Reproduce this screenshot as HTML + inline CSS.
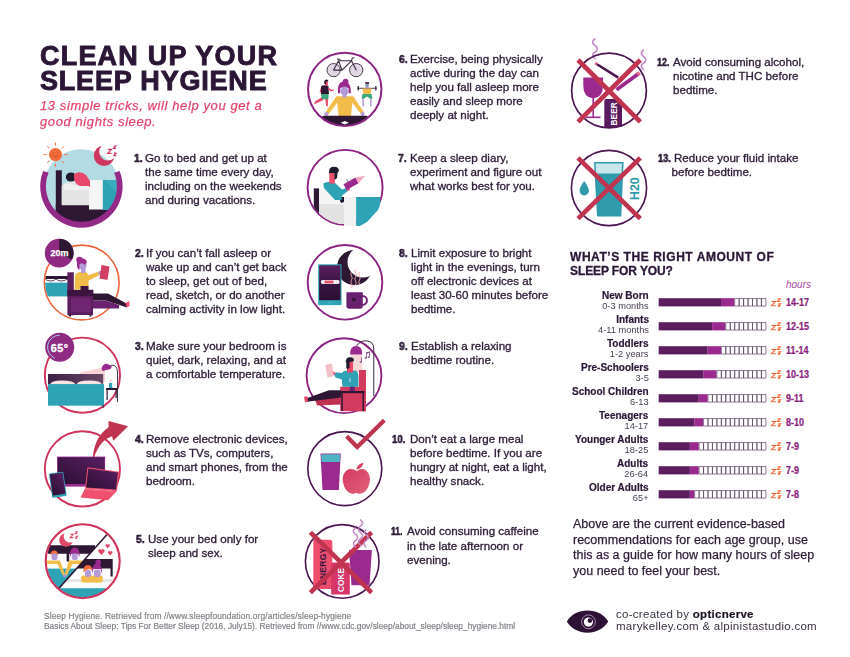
<!DOCTYPE html>
<html><head><meta charset="utf-8">
<style>
*{margin:0;padding:0;box-sizing:border-box}
html,body{width:850px;height:657px;background:#fff;overflow:hidden}
body{position:relative;font-family:"Liberation Sans",sans-serif;color:#2e1c38}
.t,.n,.para,.refs,.cred,.title,.sub,.h2,.lab{will-change:transform}
svg.bg{position:absolute;left:0;top:0}
.t{position:absolute;white-space:nowrap;font-size:11.6px;line-height:14px;color:#2e1c38;-webkit-text-stroke:0.32px #2e1c38}
.n{position:absolute;white-space:nowrap;font-size:11.6px;line-height:14px;font-weight:bold;color:#2e1c38;-webkit-text-stroke:0.6px #2e1c38;transform:scaleX(.9);transform-origin:0 0}
.title{position:absolute;left:39.5px;top:43.5px;font-size:27px;line-height:24.6px;font-weight:bold;color:#2b1636;white-space:nowrap;-webkit-text-stroke:0.9px #2b1636}
.sub{position:absolute;left:40px;top:98px;font-size:13px;line-height:16px;font-style:italic;letter-spacing:0.6px;color:#e3456c;white-space:nowrap;-webkit-text-stroke:0.25px #e3456c}
.h2{position:absolute;left:570px;top:249.5px;font-size:12px;line-height:14px;font-weight:bold;color:#2b1636;white-space:nowrap;-webkit-text-stroke:0.3px #2b1636}
.lab{position:absolute;right:201.5px;white-space:nowrap;text-align:right}
.lab b{display:block;font-weight:bold;color:#2b1636;font-size:10px;line-height:10px;-webkit-text-stroke:0.2px #2b1636}
.lab span{display:block;color:#4a3f52;font-size:9.3px;line-height:9.5px;padding-top:1.2px}
.hrs{position:absolute;white-space:nowrap;font-size:10px;font-weight:bold;color:#8c1f7e}
.para{position:absolute;left:573px;top:516.7px;font-size:12.5px;line-height:15.5px;white-space:nowrap;color:#2e1c38;-webkit-text-stroke:0.25px #2e1c38}
.refs{position:absolute;left:44px;top:611.8px;font-size:8.4px;line-height:9.9px;color:#858089;white-space:nowrap;-webkit-text-stroke:0.2px #858089}
.cred{position:absolute;left:615.5px;top:607.9px;font-size:11.5px;line-height:12.1px;letter-spacing:0.28px;color:#3a3042;white-space:nowrap}
.cred b{color:#1e1226;-webkit-text-stroke:0.2px #1e1226}
</style></head>
<body>
<svg class="bg" width="850" height="657" viewBox="0 0 850 657">
<!-- ICON 1 -->
<g id="i1">
  <defs><clipPath id="c1"><circle cx="81.4" cy="187" r="37.5"/></clipPath></defs>
  <circle cx="81.4" cy="187" r="37.8" fill="#b3dbe3"/>
  <g clip-path="url(#c1)">
    <rect x="55.8" y="170.3" width="6" height="60" fill="#2d1733"/>
    <rect x="55.8" y="204.5" width="56" height="30" fill="#2d1733"/>
    <path d="M61.7 205.2 L61.7 186 Q66 181 75 182 L89 182 L89 205.2 Z" fill="#e4e4e4"/>
    <rect x="89" y="180" width="14" height="29.5" fill="#f5f5f5"/>
    <rect x="102.8" y="180" width="14" height="30" fill="#2fa3b6"/>
    <path d="M105 180 L116 180 L116 192 Z" fill="#45b2c2" opacity="0.6"/>
    <ellipse cx="71" cy="177" rx="5.2" ry="4.6" fill="#1f1a2e"/>
    <path d="M74 174 Q80 170 86 175 L90 181 L90 187 L80 186 Q74 183 74 178 Z" fill="#e8486a"/>
    <path d="M80 186 Q73 186 70 184 Q66 183 64 185 L64 190 L89 190 L89 186 Z" fill="#f0f0f0"/>
  </g>
  <path d="M43.2 171 A41.2 41.2 0 1 0 119.6 171 L114.2 172.7 A35.5 35.5 0 1 1 48.6 172.7 Z" fill="#942a88"/>
  <g fill="#f26c3c" stroke="#f26c3c" stroke-width="1" stroke-linecap="round">
    <circle cx="55.5" cy="154.6" r="6.6" stroke="none"/>
    <line x1="55.5" y1="143" x2="55.5" y2="145.2"/>
    <line x1="55.5" y1="164" x2="55.5" y2="166.4"/>
    <line x1="44" y1="154.6" x2="46.3" y2="154.6"/>
    <line x1="64.7" y1="154.6" x2="67.2" y2="154.6"/>
    <line x1="47.5" y1="146.6" x2="49" y2="148.1"/>
    <line x1="62" y1="161.1" x2="63.5" y2="162.6"/>
    <line x1="47.5" y1="162.6" x2="49" y2="161.1"/>
    <line x1="62" y1="148.1" x2="63.5" y2="146.6"/>
  </g>
  <path d="M52.5 155.5 Q55.5 158.5 58.5 155.5" fill="none" stroke="#b8401f" stroke-width="0.7"/>
  <circle cx="53.3" cy="153" r="0.6" fill="#b8401f"/><circle cx="57.7" cy="153" r="0.6" fill="#b8401f"/>
  <mask id="m1"><rect x="85" y="135" width="40" height="35" fill="#fff"/><circle cx="107.8" cy="151.8" r="8.6" fill="#000"/></mask>
  <circle cx="104" cy="155.8" r="10.2" fill="#cf3760" mask="url(#m1)"/>
  <path d="M107.8 149.4h3.6l-3.6 3.9h3.8 M113.6 146h2.2l-2.2 2.5h2.4 M113.8 153.2h2.2l-2.2 2.5h2.4" fill="none" stroke="#cf3760" stroke-width="1.2"/>
</g>
<!-- ICON 2 -->
<g id="i2">
  <circle cx="81.7" cy="282.5" r="37.4" fill="none" stroke="#f0643a" stroke-width="1.6"/>
  <defs><clipPath id="c2"><circle cx="81.7" cy="282.5" r="36.6"/></clipPath></defs>
  <g clip-path="url(#c2)">
    <rect x="40" y="276" width="28" height="3" fill="#2d1733"/>
    <path d="M40 279 L68 279 L68 283 L40 283 Z" fill="#fff"/>
    <path d="M44 279 Q52 283 56 279 Q60 283 68 279" fill="none" stroke="#2d1733" stroke-width="0.8"/>
    <rect x="40" y="282.6" width="28" height="13.8" fill="#2fa3b6"/>
  </g>
  <!-- footrest -->
  <path d="M93 293.5 L108 293.5 L127.5 304 L127 307.5 L106 300.5 L93 300.5 Z" fill="#2d1733"/>
  <path d="M93 300.5 L106 300.5 L119 305 L119 308.5 L93 308.5 Z" fill="#6a2370"/>
  <path d="M125.5 303 L129.5 301 L129.5 306 L126.5 307.5 Z" fill="#f0506e"/>
  <!-- chair -->
  <rect x="67.4" y="272.3" width="6.4" height="43" fill="#5c1d5e"/>
  <rect x="67.4" y="289.8" width="26" height="6.5" fill="#3d1440"/>
  <rect x="68" y="296" width="25" height="19" fill="#5c1d5e"/>
  <rect x="71" y="297.5" width="20" height="15" fill="#6e2672"/>
  <rect x="69" y="314.5" width="2" height="2" fill="#2d1733"/><rect x="89.5" y="314.5" width="2" height="2" fill="#2d1733"/>
  <!-- person -->
  <path d="M74.5 289.5 L75 276 Q76 272 81 272 L86 272 Q89 274 88.6 280 L88.6 289.5 Z" fill="#f2bc4a"/>
  <path d="M86 276 L99 271.5 L100.5 274.5 L88 281 Z" fill="#f2bc4a"/>
  <circle cx="100.5" cy="273" r="2.2" fill="#b49ad6"/>
  <rect x="81" y="267" width="4.5" height="6" fill="#b49ad6"/>
  <circle cx="82.5" cy="265.5" r="4" fill="#b49ad6"/>
  <path d="M77 265 Q76 259 81 258.5 Q86 258 87 262 L85 265 Q82 262 79.5 264 L79.5 270 Q77 269 77 265 Z" fill="#9a2a8e"/>
  <circle cx="79.5" cy="260" r="3.2" fill="#9a2a8e"/>
  <rect x="80.5" y="286" width="8" height="4" fill="#3d1440"/>
  <path d="M101.5 265 L109.5 266.5 L107.5 280 L99.5 278.5 Z" fill="#d43d63"/>
  <!-- clock -->
  <circle cx="59.2" cy="253.1" r="14.4" fill="#8e2a82"/>
  <path d="M59.2 253.1 L59.2 238.7 A14.4 14.4 0 0 1 72 259.6 Z" fill="#2d1733"/>
  <text x="59.6" y="255.6" stroke="#fff" stroke-width="0.25" font-size="9" font-weight="bold" fill="#fff" text-anchor="middle" font-family="Liberation Sans">20m</text>
</g>
<!-- ICON 3 -->
<g id="i3">
  <circle cx="82.4" cy="375.2" r="37.6" fill="none" stroke="#d0325a" stroke-width="1.9"/>
  <path d="M80 372.5 L105 367 L105 382 L80 376 Z" fill="#f7d3d3"/>
  <defs><linearGradient id="hb3" x1="0" x2="1"><stop offset="0" stop-color="#3d2046"/><stop offset="1" stop-color="#6a4866"/></linearGradient></defs>
  <rect x="48" y="374" width="55.2" height="10.5" fill="url(#hb3)"/>
  <path d="M50 384.5 Q51 380.5 62 380.5 Q74 380.5 75.5 384.5 Z" fill="#f6e4e2"/>
  <path d="M76.5 384.5 Q77.5 380.5 89 380.5 Q101 380.5 102 384.5 Z" fill="#f6e4e2"/>
  <rect x="48" y="384.1" width="56" height="21.6" fill="#2ea3b6"/>
  <rect x="102.5" y="405" width="1" height="3" fill="#2d1733"/>
  <path d="M108 367.5 Q111 364 114.5 365.5 Q117.5 367.5 117.5 372 L117.5 402" fill="none" stroke="#3a2540" stroke-width="0.9"/>
  <path d="M102.5 371 A4.6 4.6 0 0 1 110.5 366 Z" fill="#9a2a8e"/>
  <path d="M102.5 371 Q105 362 112 366.5 L110.5 369 Z" fill="#9a2a8e"/>
  <rect x="106" y="388" width="11.5" height="2" fill="#2d1733"/>
  <rect x="106.5" y="390" width="1.2" height="10" fill="#2d1733"/>
  <rect x="115.5" y="390" width="1.2" height="8" fill="#2d1733"/>
  <rect x="109" y="383" width="3.2" height="5" fill="#2ea3b6"/>
  <path d="M110.6 378.5 Q112 381 110.6 382.5 Q109.2 381 110.6 378.5 Z" fill="#f3b4b4"/>
  <circle cx="59.7" cy="347.2" r="14.5" fill="#8e2a82"/>
  <path d="M59.7 335.2 A12 12 0 0 0 55 358.3" fill="none" stroke="#a9d9e6" stroke-width="0.9"/>
  <text x="59.6" y="352.2" font-size="10.8" font-weight="bold" fill="#fff" stroke="#fff" stroke-width="0.35" letter-spacing="0.4" text-anchor="middle" font-family="Liberation Sans">65°</text>
</g>
<!-- ICON 4 -->
<g id="i4">
  <circle cx="82.4" cy="468.9" r="37.6" fill="none" stroke="#d0325a" stroke-width="1.9"/>
  <defs>
   <linearGradient id="tv4" x1="0" y1="1" x2="1" y2="0"><stop offset="0" stop-color="#2a0f33"/><stop offset="1" stop-color="#5a1f62"/></linearGradient>
  </defs>
  <rect x="57.1" y="456.6" width="48" height="30" fill="#9a2a8e"/>
  <rect x="57.8" y="457.3" width="46.6" height="26.7" fill="url(#tv4)"/>
  <path d="M92.8 457 Q94.5 437 108.6 427.2 L108.5 421 L128.1 426.3 L113.3 440.7 L112 436.2 Q100 440 94.2 457 Z" fill="#c0344f"/>
  <g transform="rotate(-8 58 484.5)">
    <rect x="50.5" y="472.5" width="14.5" height="24.5" rx="1" fill="#2ea3b6"/>
    <rect x="51.3" y="473.3" width="12.9" height="21.4" fill="url(#tv4)"/>
  </g>
  <path d="M87.4 467.3 L119.2 471.7 L116.9 490.9 L85.1 488.5 Z" fill="#f0506e"/>
  <path d="M88.3 468.5 L118 472.6 L116 489.6 L86.2 487.4 Z" fill="url(#tv4)"/>
  <path d="M85.1 488.5 L116.9 490.9 L108 500.3 L80.5 497.4 Z" fill="#f0506e"/>
  <path d="M84 489.5 L114.5 491.8" stroke="#f47a8e" stroke-width="0.6"/>
</g>
<!-- ICON 5 -->
<g id="i5">
  <defs><clipPath id="c5"><circle cx="82.7" cy="561.2" r="36.2"/></clipPath>
  <clipPath id="c5a"><path d="M40 520 L110 520 L110 531 L59 588.5 L40 600 Z"/></clipPath>
  <clipPath id="c5b"><path d="M110 531 L130 520 L130 610 L50 610 L59 588.5 Z"/></clipPath></defs>
  <g clip-path="url(#c5)">
    <!-- left scene -->
    <g clip-path="url(#c5a)">
      <path d="M48 545.2 L95 545.2 L95 553.7 L69.2 553.7 L69.2 561.6 L66.6 561.6 L66.6 553.7 L48 553.7 Z" fill="#2d1733"/>
      <rect x="45" y="553.7" width="50" height="15" fill="#fff" opacity="0"/>
      <rect x="45" y="568.6" width="50" height="22" fill="#2ea3b6"/>
      <rect x="51.5" y="553" width="6" height="7" rx="2" fill="#b49ad6"/>
      <path d="M50.6 556 Q50 550.5 54.3 550.5 Q58.3 550.5 57.8 556 L56.5 553.5 L52 553.5 Z" fill="#f26c3c"/>
      <rect x="71.8" y="553" width="6" height="7" rx="2" fill="#b49ad6"/>
      <path d="M70 557 Q69 548 74.8 547.5 Q80.5 548 79.5 557 L78 553.5 L71.5 553.5 Z" fill="#9a2a8e"/>
      <path d="M47 560.5 L60 560.5 L65 574.5 L63 576 L57.5 564 L47 564 Z" fill="#f2bc4a"/>
      <path d="M69 560.5 L82 560.5 L82 564 L72.5 564 L66.5 576 L64.5 574.5 Z" fill="#f2bc4a"/>
      <circle cx="64.8" cy="575.8" r="1.7" fill="#b49ad6"/>
    </g>
    <!-- right scene -->
    <g clip-path="url(#c5b)">
      <rect x="60" y="579" width="60" height="3.5" fill="#e6e6e6"/>
      <rect x="55" y="582.2" width="70" height="6.2" fill="#fff"/>
      <rect x="55" y="588.2" width="70" height="15" fill="#2ea3b6"/>
      <path d="M75 559 L112.7 559 L112.7 576.6 L110.5 576.6 L110.5 568.6 L75 568.6 Z" fill="#2d1733"/>
      <rect x="81.1" y="575.4" width="21.7" height="7.2" rx="2" fill="#f2bc4a"/>
      <rect x="85" y="570" width="6" height="7" rx="2" fill="#b49ad6"/>
      <path d="M83.5 573 Q83 565 87.8 565 Q92.5 565 92 571 L90 569 L85.5 570 Z" fill="#f26c3c"/>
      <rect x="94" y="569.5" width="6.5" height="7.5" rx="2" fill="#b49ad6"/>
      <path d="M92 574 Q91.5 563.5 97.1 563.5 Q102.5 563.5 102 574 L100.5 569 L93.5 569 Z" fill="#9a2a8e"/>
      <circle cx="98.2" cy="562.3" r="2.8" fill="#9a2a8e"/>
    </g>
  </g>
  <path d="M59 588.2 L107 534.5" stroke="#2d1733" stroke-width="1.6"/>
  <circle cx="82.7" cy="561.2" r="37" fill="none" stroke="#d0325a" stroke-width="2.1"/>
  <mask id="m5"><rect x="50" y="525" width="30" height="25" fill="#fff"/><circle cx="70" cy="536.3" r="6.3" fill="#000"/></mask><circle cx="66" cy="540" r="6.8" fill="#e0486a" mask="url(#m5)"/>
  <path d="M70.2 534.3h3l-3 3.3h3.2 M75.3 531.8h1.8l-1.8 2h2 M75.6 536.3h1.6l-1.6 1.8h1.8" fill="none" stroke="#e0486a" stroke-width="1.1"/>
  <g fill="#e0486a">
    <path d="M101.4 555 L98.4 551.8 A1.6 1.6 0 0 1 101.4 550 A1.6 1.6 0 0 1 104.4 551.8 Z"/>
    <path d="M107.7 548.3 L105.6 546 A1.2 1.2 0 0 1 107.7 544.8 A1.2 1.2 0 0 1 109.8 546 Z"/>
    <path d="M110.2 555.5 L108 553.1 A1.25 1.25 0 0 1 110.2 551.8 A1.25 1.25 0 0 1 112.4 553.1 Z"/>
  </g>
</g>
<!-- ICON 6 -->
<g id="i6">
  <defs><clipPath id="c6"><circle cx="344.75" cy="89.35" r="36.2"/></clipPath></defs>
  <!-- bicycle -->
  <g stroke="#3a2540" stroke-width="0.9" fill="#e4dde6">
    <circle cx="333.6" cy="70.1" r="6.6"/>
    <circle cx="356.2" cy="70.1" r="6.6"/>
  </g>
  <g stroke="#b9aec0" stroke-width="0.35" fill="none">
    <path d="M327.5 70.1 H339.7 M333.6 64 V76.2 M329.3 65.8 L337.9 74.4 M329.3 74.4 L337.9 65.8"/>
    <path d="M350.1 70.1 H362.3 M356.2 64 V76.2 M351.9 65.8 L360.5 74.4 M351.9 74.4 L360.5 65.8"/>
  </g>
  <g stroke="#3a2540" stroke-width="1.1" fill="none" stroke-linejoin="round">
    <path d="M333.6 70.1 L338.5 60.8 L351.5 60.8 L356.2 70.1 M338.5 60.8 L342 70.1 L351.5 60.8 M333.6 70.1 L342 70.1"/>
    <path d="M337 59.3 L340.5 59.3 M351.5 60.8 L352.3 58 L354.5 57.8"/>
  </g>
  <!-- runner -->
  <g>
    <path d="M322 97 L315 101.5 L314 104.2 L316 103.5 L323.5 100 Z" fill="#e8486a"/>
    <path d="M325 97 L326.2 106 L327.8 106.5 L328 97 Z" fill="#e8486a"/>
    <path d="M321 93.5 L328.5 93.5 L328.5 99.5 L325.5 99 L322 99.5 Z" fill="#3aa87a"/>
    <path d="M321 86.5 Q322 85 326 85 L328.5 86 L329 94 L321 94 Z" fill="#2d1733"/>
    <path d="M321 87.5 L319.5 92 L321 92.5 Z" fill="#e8486a"/>
    <path d="M328 87.5 L332 90 L334 89.3 L334 90.3 L331.5 91.5 L328.5 90 Z" fill="#e8486a"/>
    <rect x="324.8" y="81.2" width="3" height="4.5" fill="#e8486a"/>
    <path d="M324.2 81.8 Q324.5 79.3 327 79.5 Q328.6 79.8 328.3 81.5 L326.3 81.6 L326 84 L324.5 84 Z" fill="#2d1733"/>
  </g>
  <!-- lifter -->
  <g>
    <rect x="357.3" y="87.8" width="19.5" height="0.9" fill="#3a2540"/>
    <rect x="357.6" y="86" width="1.3" height="4.5" fill="#3a2540"/>
    <rect x="375.2" y="86" width="1.3" height="4.5" fill="#3a2540"/>
    <path d="M362.5 88.5 L371.5 88.5 L370.5 94.2 L363.5 94.2 Z" fill="#f2bc4a"/>
    <path d="M362.5 94 L371.5 94 L372.5 98.5 L370.5 99 L367 96.5 L363.5 99 L361.5 98.5 Z" fill="#3aa87a"/>
    <path d="M362.3 98.5 L363.8 99 L364 106.6 L362.5 106.6 Z M370.2 99 L371.7 98.5 L371.5 106.6 L370 106.6 Z" fill="#b49ad6"/>
    <rect x="365.5" y="83" width="3.2" height="5" fill="#b49ad6"/>
    <rect x="365.2" y="82.2" width="3.8" height="1.6" fill="#2d1733"/>
    <rect x="365.5" y="85" width="3.2" height="1" fill="#3aa87a"/>
  </g>
  <!-- meditating woman -->
  <g clip-path="url(#c6)">
    <path d="M336.4 96.3 L353.1 96.3 L351 115.9 L338.6 115.9 Z" fill="#f2bc4a"/>
    <path d="M336.4 96.3 L339.6 99.5 L328.3 114.6 L325.3 112.6 Z" fill="#f2bc4a"/>
    <path d="M353.1 96.3 L349.9 99.5 L361.2 114.6 L364.2 112.6 Z" fill="#f2bc4a"/>
    <circle cx="326.3" cy="114" r="2" fill="#b49ad6"/>
    <circle cx="362.6" cy="114" r="2" fill="#b49ad6"/>
    <path d="M324 115.8 L366 115.8 Q369.5 116.5 369.5 121 L369.5 130 L320 130 L320 121 Q320.5 116.5 324 115.8 Z" fill="#2d1733"/>
    <path d="M340.5 122.8 L344.8 121 L349 122.8 L344.8 124.6 Z" fill="#fff"/>
    <rect x="342.6" y="94" width="3.8" height="3.5" fill="#b49ad6"/>
    <path d="M338 93.2 Q337 81.5 344.3 81.5 Q351.5 81.5 350.8 93.2 L348.5 93.2 L348.5 88 Q344.3 86.5 340.3 88 L340.3 93.2 Z" fill="#9a2a8e"/>
    <ellipse cx="344.4" cy="91.2" rx="3.8" ry="4.6" fill="#b49ad6"/>
    <circle cx="345.6" cy="81.6" r="2.9" fill="#9a2a8e"/>
  </g>
  <circle cx="344.75" cy="89.35" r="36.7" fill="none" stroke="#8b2383" stroke-width="2"/>
</g>
<g id="i7">
  <defs><clipPath id="c7"><circle cx="345.1" cy="187.4" r="36.8"/></clipPath></defs>
  <circle cx="345.1" cy="187.4" r="37.5" fill="none" stroke="#8b2383" stroke-width="1.9"/>
  <g clip-path="url(#c7)">
    <rect x="313.8" y="188.4" width="5.2" height="30" fill="#2d1733"/>
    <path d="M319 190 L330 186 L340 199 L345 204.5 L319 204.5 Z" fill="#f4f4f4"/>
    <rect x="319" y="204.2" width="27" height="20" fill="#e2e2e2"/>
  </g>
  <path d="M344 197 L356.1 197 L356.1 226 L344 226 Z" fill="#f1f1f1"/>
  <path d="M356.1 197 L380 197 Q381 205 378 210 L367 222 L360 226 L356.1 226 Z" fill="#2ea3b6"/>
  <path d="M338.5 197 L344 197 L344 202 L341 203 Z" fill="#1f1a2e"/>
  <path d="M323.3 183.5 Q325 181.5 330 182 L335 183 L342 189.5 L346.5 188 L348 191 L342 195.5 L341.5 200 L335 200 L324 188 Z" fill="#2ea3b6"/>
  <circle cx="348.2" cy="189.2" r="1.6" fill="#e8486a"/>
  <rect x="329.3" y="171.4" width="5.5" height="12.2" fill="#f0506e"/>
  <path d="M334.5 173 L337.5 173 L337 178 L334.5 180 Z" fill="#1f1a2e"/>
  <path d="M329 171.5 Q329 166.8 334 166.8 Q339.5 167 338.8 171 L337.5 173 L329 173 Z" fill="#1f1a2e"/>
  <path d="M343.5 184.3 L355.5 177.6 L358.5 183.2 L346.5 190 Z" fill="#9a2a8e"/>
  <path d="M355.5 177.6 L365.3 175.8 L358.5 183.2 Z" fill="#f2a8c0"/>
  <path d="M346.5 179 L348 182" stroke="#2d1733" stroke-width="0.6"/>
</g>
<g id="i8">
  <circle cx="345" cy="282.3" r="37.3" fill="none" stroke="#8b2383" stroke-width="1.9"/>
  <defs>
   <mask id="m8"><rect x="320" y="240" width="70" height="60" fill="#fff"/><circle cx="363" cy="262" r="15.5" fill="#000"/></mask>
   <linearGradient id="ph8" x1="0" y1="0" x2="0" y2="1"><stop offset="0" stop-color="#5a1f5e"/><stop offset="0.5" stop-color="#3a1542"/><stop offset="1" stop-color="#2a0f33"/></linearGradient>
  </defs>
  <circle cx="354.5" cy="267.5" r="17.6" fill="#2d1733" mask="url(#m8)"/>
  <g fill="none" stroke="#f2a8b0" stroke-width="0.9">
    <path d="M351.5 272 q-1.5 2 0 4 q1.5 2 0 4 q-1.5 2 0 4 q1.5 2 0 4"/>
    <path d="M355.5 269 q-1.5 2 0 4 q1.5 2 0 4 q-1.5 2 0 4 q1.5 2 0 4"/>
    <path d="M359.5 272 q-1.5 2 0 4 q1.5 2 0 4 q-1.5 2 0 4"/>
  </g>
  <rect x="318.2" y="264.3" width="23.3" height="40.8" fill="#2ea3b6"/>
  <rect x="319.2" y="265.3" width="21.3" height="34.9" fill="url(#ph8)"/>
  <rect x="320.8" y="280.1" width="18.9" height="3.8" rx="1.9" fill="#eee"/>
  <rect x="324.5" y="280.6" width="9" height="2.8" fill="#e8506a"/>
  <rect x="328.5" y="301.8" width="3" height="1.6" fill="#45b8c8"/>
  <path d="M360 296 h2.5 a4.4 4.4 0 0 1 0 8.8 h-2.5" fill="none" stroke="#6a2070" stroke-width="2"/>
  <path d="M346.4 292.3 L362.8 292.3 L362.8 306 Q362.8 308.8 360 308.8 L349.2 308.8 Q346.4 308.8 346.4 306 Z" fill="#6a2070"/>
  <rect x="352.2" y="298.1" width="3.2" height="3.2" fill="#2d1733"/>
</g>
<g id="i9">
  <circle cx="344" cy="375.7" r="37.4" fill="none" stroke="#8b2383" stroke-width="1.9"/>
  <path d="M356.5 346 Q360 340.5 366.5 340.8 Q373.8 341.5 373.8 349 L373.8 396" fill="none" stroke="#3a2540" stroke-width="1"/>
  <path d="M351 354.4 L361.8 354.4 L362.5 372 L351.5 372 Z" fill="#f6d6d6"/>
  <path d="M350.1 354.4 Q350 346 356.1 346 Q362.3 346 362.2 354.4 Z" fill="#9a2a8e"/>
  <g fill="#7a4a80">
    <path d="M366 352.5 L369.8 351.2 L369.8 357.2 L369 357.2 L369 353 L366.8 353.8 L366.8 358 L366 358 Z"/>
    <ellipse cx="365.6" cy="358.1" rx="1.1" ry="0.8"/><ellipse cx="368.6" cy="357.3" rx="1.1" ry="0.8"/>
    <path d="M361 357.5 L361.8 357.5 L361.8 362 L361 362 Z"/><ellipse cx="360.6" cy="362.1" rx="1" ry="0.8"/>
  </g>
  <!-- chair -->
  <rect x="358.9" y="370" width="7.1" height="41.3" fill="#d23a5e"/>
  <rect x="340.2" y="386.7" width="25.8" height="24.5" fill="#d23a5e"/>
  <!-- legs -->
  <path d="M315 398.5 L340.5 397 L341 404.5 L317 405.5 Z" fill="#c03050"/>
  <path d="M329 390.2 L341 390.2 L341 397.5 L307 401.8 L306 398.5 Z" fill="#2d1733"/>
  <path d="M304 397 L307.5 396 L308 401.5 L305 402.5 Z" fill="#e8486a"/>
  <!-- table -->
  <rect x="340.5" y="391" width="24" height="2.2" fill="#2d1733"/>
  <rect x="341.3" y="393" width="1.5" height="18" fill="#2d1733"/>
  <rect x="362.5" y="393" width="1.5" height="18" fill="#2d1733"/>
  <rect x="349.8" y="384.3" width="4.8" height="6.8" fill="#6a2070"/>
  <!-- man -->
  <path d="M341.8 373 Q343 370.4 347.5 370.4 L356 370.4 Q358.6 372 358.4 378 L358.4 386.8 L342.5 386.8 L341.8 379.5 L335.5 377.5 L334 374.5 L336 372.3 Z" fill="#2ea3b6"/>
  <path d="M350 377 Q351.5 380 350.5 382 L349 382 Q348.5 380 350 377 Z" fill="#8fcad4"/>
  <circle cx="333.5" cy="373.2" r="1.8" fill="#e8486a"/>
  <path d="M325.3 365 L331.8 363.3 L334 376 L327.4 377.8 Z" fill="#f2c0c8"/>
  <rect x="347" y="361.5" width="6" height="11" fill="#e8486a"/>
  <path d="M346.3 362 L349.5 362 L349.5 367.5 L347.5 369.5 L346.3 368 Z" fill="#1f1a2e"/>
  <path d="M345.8 362.5 Q345.5 357.3 350 357.3 Q354.5 357.3 353.8 361.3 L348 362.5 Z" fill="#1f1a2e"/>
</g>
<g id="i10">
  <circle cx="344.8" cy="468.6" r="37" fill="none" stroke="#4a1550" stroke-width="1.6"/>
  <defs>
   <linearGradient id="ap10" x1="0" y1="0" x2="1" y2="1"><stop offset="0" stop-color="#d63a60"/><stop offset="1" stop-color="#e2607a"/></linearGradient>
  </defs>
  <path d="M320.5 453.4 L340.8 453.4 L338.8 490 L322.5 490 Z" fill="#9a2a8e"/>
  <path d="M321.2 454.2 L340.1 454.2 L339.7 462 L321.6 462 Z" fill="#4fb3c4"/>
  <path d="M356.8 471 Q351 467.5 346.5 470.5 Q341.5 475 343 482.5 Q345 491.5 351 493.5 Q354 494.5 356.3 492.8 Q358.6 494.5 361.6 493.5 Q367.6 491.5 369.6 482.5 Q371.1 475 366.1 470.5 Q361.6 467.5 356.8 471 Z" fill="url(#ap10)"/>
  <path d="M356.3 469.5 Q358 463.5 363.5 462.8 Q362.5 468.5 356.3 469.5 Z" fill="#d63a60"/>
  <path d="M346.6 436.3 L357.2 447 L384.3 420.3" fill="none" stroke="#c0344f" stroke-width="4.2"/>
</g>
<g id="i11">
  <circle cx="342.2" cy="561.4" r="36.8" fill="none" stroke="#4a1550" stroke-width="1.6"/>
  <g fill="none" stroke="#c487c6" stroke-width="1.6" stroke-linecap="round">
    <path d="M595 58.5 c-3.2 -2 -3.2 -4.5 0 -6.5 c3.2 -2 3.2 -4.5 0 -6.5 c-3.2 -2 -3.2 -4.5 0 -6.5"/>
    <path d="M643.5 69.5 c-3 -2 -3 -4.5 0 -6.5 c3 -2 3 -4.5 0 -6.5 c-3 -2 -3 -4.5 0 -6.5"/>
  </g>
  <path d="M313.3 539.7 L329.5 539.7 Q332.3 539.7 332.3 542.5 L332.3 589 L313.3 589 Z" fill="#ef4d6d"/>
  <text transform="translate(326.3 585) rotate(-90)" font-size="8.6" font-weight="bold" fill="#3a1540" font-family="Liberation Sans" letter-spacing="0.2">ENERGY</text>
  <path d="M331.2 564 Q331.2 562.5 333 562.5 L348 562.5 Q349.8 562.5 349.8 564 L349.8 594.5 L331.2 594.5 Z" fill="#d8356a"/>
  <text transform="translate(343.8 592) rotate(-90)" font-size="8.4" font-weight="bold" fill="#e6f4f6" font-family="Liberation Sans">COKE</text>
  <path d="M349 549.9 L371.9 549.9 L369.5 585.3 L351.5 585.3 Z" fill="#9a2a8e"/>
  <g stroke="#c0344f" stroke-width="4.6" stroke-linecap="butt">
    <path d="M310.4 532.4 L371.6 592.6"/>
    <path d="M310.4 592.6 L371.6 532.4"/>
  </g>
</g>
<g id="i12">
  <circle cx="609" cy="90.5" r="37.4" fill="none" stroke="#4a1550" stroke-width="1.7"/>
  <g fill="none" stroke="#c487c6" stroke-width="1.5" stroke-linecap="round">
    <path d="M355.5 547 c-2.8 -2 -2.8 -4.3 0 -6.3 c2.8 -2 2.8 -4.3 0 -6.3 c-2.8 -2 -2.8 -4.3 0 -6.3"/>
    <path d="M360.5 545 c-2.8 -2 -2.8 -4.3 0 -6.3 c2.8 -2 2.8 -4.3 0 -6.3 c-2.8 -2 -2.8 -4.3 0 -6.3 c2.8 -2 2.8 -4.3 0 -6.3"/>
    <path d="M366 547 c-2.8 -2 -2.8 -4.3 0 -6.3 c2.8 -2 2.8 -4.3 0 -6.3 c-2 -1.5 -2 -3 0 -4.5"/>
  </g>
  <path d="M595.4 63.2 L618.3 77.6" stroke="#4a1550" stroke-width="2.5"/>
  <path d="M595.4 63.2 L597.2 64.3" stroke="#f06a8a" stroke-width="2.5"/>
  <path d="M616.5 89.8 L639.5 73" stroke="#9a2a8e" stroke-width="3.8"/>
  <path d="M637.4 74.5 L639.5 73" stroke="#f06a8a" stroke-width="3.8"/>
  <path d="M583.3 77.6 L603 77.6 L603 86 Q603 97.5 593.2 98.5 Q583.3 97.5 583.3 86 Z" fill="#9a2a8e"/>
  <rect x="592.4" y="97" width="1.6" height="20" fill="#9a2a8e"/>
  <rect x="586" y="116.5" width="14.5" height="1.6" fill="#9a2a8e"/>
  <path d="M604.3 101 Q604.3 99 606.3 99 L620 99 Q622 99 622 101 L622 127 L604.3 127 Z" fill="#5a1a60"/>
  <text transform="translate(617 125.5) rotate(-90)" font-size="8.4" font-weight="bold" fill="#fff" font-family="Liberation Sans">BEER</text>
  <g stroke="#c0344f" stroke-width="4.6">
    <path d="M578 60 L640.3 121.8"/>
    <path d="M578 121.8 L640.3 60"/>
  </g>
</g>
<g id="i13">
  <circle cx="609" cy="188" r="37.6" fill="none" stroke="#4a1550" stroke-width="1.6"/>
  <path d="M594 162 L623.6 162 L621.3 216.4 L597 216.4 Z" fill="#2e9aab"/>
  <path d="M595.6 163.4 L622 163.4 L621.6 173.5 L596 173.5 Z" fill="#c8e6ec"/>
  <path d="M584.2 181 Q579.5 187.5 579.5 190.8 A4.7 4.7 0 0 0 588.9 190.8 Q588.9 187.5 584.2 181 Z" fill="#2e9aab"/>
  <text transform="translate(639.3 200) rotate(-90)" font-size="12.4" font-weight="bold" fill="#2e9aab" font-family="Liberation Sans">H20</text>
  <g stroke="#c0344f" stroke-width="4.6">
    <path d="M578 157.8 L640.3 218.7"/>
    <path d="M578 218.7 L640.3 157.8"/>
  </g>
</g>
<g id="chart">
<rect x="658.7" y="298.2" width="62.30" height="8.2" fill="#5c1d5e"/>
<rect x="721.00" y="298.2" width="13.35" height="8.2" fill="#9a2a8e"/>
<path d="M734.70 298.55h4.45v7.5h-4.45zM739.15 298.55h4.45v7.5h-4.45zM743.60 298.55h4.45v7.5h-4.45zM748.05 298.55h4.45v7.5h-4.45zM752.50 298.55h4.45v7.5h-4.45zM756.95 298.55h4.45v7.5h-4.45zM761.40 298.55h4.45v7.5h-4.45z" fill="#fff" stroke="#5a4262" stroke-width="0.7"/>
<path d="M771.4 301.5h4.2l-4.2 4.2h4.4 M777.6 298.9h2.6l-2.6 2.6h2.8 M778.2 303.7h2.2l-2.2 2.4h2.4" fill="none" stroke="#f26c3c" stroke-width="1.15" stroke-linejoin="miter"/>
<text transform="translate(786 305.8) scale(0.9 1)" font-size="10" font-weight="bold" fill="#8c1f7e" stroke="#8c1f7e" stroke-width="0.25" font-family="Liberation Sans">14-17</text>
<rect x="658.7" y="322.2" width="53.40" height="8.2" fill="#5c1d5e"/>
<rect x="712.10" y="322.2" width="13.35" height="8.2" fill="#9a2a8e"/>
<path d="M725.80 322.55h4.45v7.5h-4.45zM730.25 322.55h4.45v7.5h-4.45zM734.70 322.55h4.45v7.5h-4.45zM739.15 322.55h4.45v7.5h-4.45zM743.60 322.55h4.45v7.5h-4.45zM748.05 322.55h4.45v7.5h-4.45zM752.50 322.55h4.45v7.5h-4.45zM756.95 322.55h4.45v7.5h-4.45zM761.40 322.55h4.45v7.5h-4.45z" fill="#fff" stroke="#5a4262" stroke-width="0.7"/>
<path d="M771.4 325.5h4.2l-4.2 4.2h4.4 M777.6 322.9h2.6l-2.6 2.6h2.8 M778.2 327.7h2.2l-2.2 2.4h2.4" fill="none" stroke="#f26c3c" stroke-width="1.15" stroke-linejoin="miter"/>
<text transform="translate(786 329.8) scale(0.9 1)" font-size="10" font-weight="bold" fill="#8c1f7e" stroke="#8c1f7e" stroke-width="0.25" font-family="Liberation Sans">12-15</text>
<rect x="658.7" y="346.2" width="48.95" height="8.2" fill="#5c1d5e"/>
<rect x="707.65" y="346.2" width="13.35" height="8.2" fill="#9a2a8e"/>
<path d="M721.35 346.55h4.45v7.5h-4.45zM725.80 346.55h4.45v7.5h-4.45zM730.25 346.55h4.45v7.5h-4.45zM734.70 346.55h4.45v7.5h-4.45zM739.15 346.55h4.45v7.5h-4.45zM743.60 346.55h4.45v7.5h-4.45zM748.05 346.55h4.45v7.5h-4.45zM752.50 346.55h4.45v7.5h-4.45zM756.95 346.55h4.45v7.5h-4.45zM761.40 346.55h4.45v7.5h-4.45z" fill="#fff" stroke="#5a4262" stroke-width="0.7"/>
<path d="M771.4 349.5h4.2l-4.2 4.2h4.4 M777.6 346.9h2.6l-2.6 2.6h2.8 M778.2 351.7h2.2l-2.2 2.4h2.4" fill="none" stroke="#f26c3c" stroke-width="1.15" stroke-linejoin="miter"/>
<text transform="translate(786 353.8) scale(0.9 1)" font-size="10" font-weight="bold" fill="#8c1f7e" stroke="#8c1f7e" stroke-width="0.25" font-family="Liberation Sans">11-14</text>
<rect x="658.7" y="370.2" width="44.50" height="8.2" fill="#5c1d5e"/>
<rect x="703.20" y="370.2" width="13.35" height="8.2" fill="#9a2a8e"/>
<path d="M716.90 370.55h4.45v7.5h-4.45zM721.35 370.55h4.45v7.5h-4.45zM725.80 370.55h4.45v7.5h-4.45zM730.25 370.55h4.45v7.5h-4.45zM734.70 370.55h4.45v7.5h-4.45zM739.15 370.55h4.45v7.5h-4.45zM743.60 370.55h4.45v7.5h-4.45zM748.05 370.55h4.45v7.5h-4.45zM752.50 370.55h4.45v7.5h-4.45zM756.95 370.55h4.45v7.5h-4.45zM761.40 370.55h4.45v7.5h-4.45z" fill="#fff" stroke="#5a4262" stroke-width="0.7"/>
<path d="M771.4 373.5h4.2l-4.2 4.2h4.4 M777.6 370.9h2.6l-2.6 2.6h2.8 M778.2 375.7h2.2l-2.2 2.4h2.4" fill="none" stroke="#f26c3c" stroke-width="1.15" stroke-linejoin="miter"/>
<text transform="translate(786 377.8) scale(0.9 1)" font-size="10" font-weight="bold" fill="#8c1f7e" stroke="#8c1f7e" stroke-width="0.25" font-family="Liberation Sans">10-13</text>
<rect x="658.7" y="394.2" width="40.05" height="8.2" fill="#5c1d5e"/>
<rect x="698.75" y="394.2" width="8.90" height="8.2" fill="#9a2a8e"/>
<path d="M708.00 394.55h4.45v7.5h-4.45zM712.45 394.55h4.45v7.5h-4.45zM716.90 394.55h4.45v7.5h-4.45zM721.35 394.55h4.45v7.5h-4.45zM725.80 394.55h4.45v7.5h-4.45zM730.25 394.55h4.45v7.5h-4.45zM734.70 394.55h4.45v7.5h-4.45zM739.15 394.55h4.45v7.5h-4.45zM743.60 394.55h4.45v7.5h-4.45zM748.05 394.55h4.45v7.5h-4.45zM752.50 394.55h4.45v7.5h-4.45zM756.95 394.55h4.45v7.5h-4.45zM761.40 394.55h4.45v7.5h-4.45z" fill="#fff" stroke="#5a4262" stroke-width="0.7"/>
<path d="M771.4 397.5h4.2l-4.2 4.2h4.4 M777.6 394.9h2.6l-2.6 2.6h2.8 M778.2 399.7h2.2l-2.2 2.4h2.4" fill="none" stroke="#f26c3c" stroke-width="1.15" stroke-linejoin="miter"/>
<text transform="translate(786 401.8) scale(0.9 1)" font-size="10" font-weight="bold" fill="#8c1f7e" stroke="#8c1f7e" stroke-width="0.25" font-family="Liberation Sans">9-11</text>
<rect x="658.7" y="418.2" width="35.60" height="8.2" fill="#5c1d5e"/>
<rect x="694.30" y="418.2" width="8.90" height="8.2" fill="#9a2a8e"/>
<path d="M703.55 418.55h4.45v7.5h-4.45zM708.00 418.55h4.45v7.5h-4.45zM712.45 418.55h4.45v7.5h-4.45zM716.90 418.55h4.45v7.5h-4.45zM721.35 418.55h4.45v7.5h-4.45zM725.80 418.55h4.45v7.5h-4.45zM730.25 418.55h4.45v7.5h-4.45zM734.70 418.55h4.45v7.5h-4.45zM739.15 418.55h4.45v7.5h-4.45zM743.60 418.55h4.45v7.5h-4.45zM748.05 418.55h4.45v7.5h-4.45zM752.50 418.55h4.45v7.5h-4.45zM756.95 418.55h4.45v7.5h-4.45zM761.40 418.55h4.45v7.5h-4.45z" fill="#fff" stroke="#5a4262" stroke-width="0.7"/>
<path d="M771.4 421.5h4.2l-4.2 4.2h4.4 M777.6 418.9h2.6l-2.6 2.6h2.8 M778.2 423.7h2.2l-2.2 2.4h2.4" fill="none" stroke="#f26c3c" stroke-width="1.15" stroke-linejoin="miter"/>
<text transform="translate(786 425.8) scale(0.9 1)" font-size="10" font-weight="bold" fill="#8c1f7e" stroke="#8c1f7e" stroke-width="0.25" font-family="Liberation Sans">8-10</text>
<rect x="658.7" y="442.2" width="31.15" height="8.2" fill="#5c1d5e"/>
<rect x="689.85" y="442.2" width="8.90" height="8.2" fill="#9a2a8e"/>
<path d="M699.10 442.55h4.45v7.5h-4.45zM703.55 442.55h4.45v7.5h-4.45zM708.00 442.55h4.45v7.5h-4.45zM712.45 442.55h4.45v7.5h-4.45zM716.90 442.55h4.45v7.5h-4.45zM721.35 442.55h4.45v7.5h-4.45zM725.80 442.55h4.45v7.5h-4.45zM730.25 442.55h4.45v7.5h-4.45zM734.70 442.55h4.45v7.5h-4.45zM739.15 442.55h4.45v7.5h-4.45zM743.60 442.55h4.45v7.5h-4.45zM748.05 442.55h4.45v7.5h-4.45zM752.50 442.55h4.45v7.5h-4.45zM756.95 442.55h4.45v7.5h-4.45zM761.40 442.55h4.45v7.5h-4.45z" fill="#fff" stroke="#5a4262" stroke-width="0.7"/>
<path d="M771.4 445.5h4.2l-4.2 4.2h4.4 M777.6 442.9h2.6l-2.6 2.6h2.8 M778.2 447.7h2.2l-2.2 2.4h2.4" fill="none" stroke="#f26c3c" stroke-width="1.15" stroke-linejoin="miter"/>
<text transform="translate(786 449.8) scale(0.9 1)" font-size="10" font-weight="bold" fill="#8c1f7e" stroke="#8c1f7e" stroke-width="0.25" font-family="Liberation Sans">7-9</text>
<rect x="658.7" y="466.2" width="31.15" height="8.2" fill="#5c1d5e"/>
<rect x="689.85" y="466.2" width="8.90" height="8.2" fill="#9a2a8e"/>
<path d="M699.10 466.55h4.45v7.5h-4.45zM703.55 466.55h4.45v7.5h-4.45zM708.00 466.55h4.45v7.5h-4.45zM712.45 466.55h4.45v7.5h-4.45zM716.90 466.55h4.45v7.5h-4.45zM721.35 466.55h4.45v7.5h-4.45zM725.80 466.55h4.45v7.5h-4.45zM730.25 466.55h4.45v7.5h-4.45zM734.70 466.55h4.45v7.5h-4.45zM739.15 466.55h4.45v7.5h-4.45zM743.60 466.55h4.45v7.5h-4.45zM748.05 466.55h4.45v7.5h-4.45zM752.50 466.55h4.45v7.5h-4.45zM756.95 466.55h4.45v7.5h-4.45zM761.40 466.55h4.45v7.5h-4.45z" fill="#fff" stroke="#5a4262" stroke-width="0.7"/>
<path d="M771.4 469.5h4.2l-4.2 4.2h4.4 M777.6 466.9h2.6l-2.6 2.6h2.8 M778.2 471.7h2.2l-2.2 2.4h2.4" fill="none" stroke="#f26c3c" stroke-width="1.15" stroke-linejoin="miter"/>
<text transform="translate(786 473.8) scale(0.9 1)" font-size="10" font-weight="bold" fill="#8c1f7e" stroke="#8c1f7e" stroke-width="0.25" font-family="Liberation Sans">7-9</text>
<rect x="658.7" y="490.2" width="31.15" height="8.2" fill="#5c1d5e"/>
<rect x="689.85" y="490.2" width="4.45" height="8.2" fill="#9a2a8e"/>
<path d="M694.65 490.55h4.45v7.5h-4.45zM699.10 490.55h4.45v7.5h-4.45zM703.55 490.55h4.45v7.5h-4.45zM708.00 490.55h4.45v7.5h-4.45zM712.45 490.55h4.45v7.5h-4.45zM716.90 490.55h4.45v7.5h-4.45zM721.35 490.55h4.45v7.5h-4.45zM725.80 490.55h4.45v7.5h-4.45zM730.25 490.55h4.45v7.5h-4.45zM734.70 490.55h4.45v7.5h-4.45zM739.15 490.55h4.45v7.5h-4.45zM743.60 490.55h4.45v7.5h-4.45zM748.05 490.55h4.45v7.5h-4.45zM752.50 490.55h4.45v7.5h-4.45zM756.95 490.55h4.45v7.5h-4.45zM761.40 490.55h4.45v7.5h-4.45z" fill="#fff" stroke="#5a4262" stroke-width="0.7"/>
<path d="M771.4 493.5h4.2l-4.2 4.2h4.4 M777.6 490.9h2.6l-2.6 2.6h2.8 M778.2 495.7h2.2l-2.2 2.4h2.4" fill="none" stroke="#f26c3c" stroke-width="1.15" stroke-linejoin="miter"/>
<text transform="translate(786 497.8) scale(0.9 1)" font-size="10" font-weight="bold" fill="#8c1f7e" stroke="#8c1f7e" stroke-width="0.25" font-family="Liberation Sans">7-8</text>
<text x="786" y="287.7" font-size="10" font-style="italic" fill="#a9479f" font-family="Liberation Sans">hours</text>
</g>
<g id="eye">
  <path d="M566.8 621.6 C575 606.8 600 606.8 608.2 621.6 C600 636.4 575 636.4 566.8 621.6 Z" fill="#2d1235"/>
  <circle cx="588.5" cy="621.8" r="6.9" fill="none" stroke="#b392bd" stroke-width="0.9"/>
  <circle cx="588.4" cy="622.1" r="4.6" fill="#fff"/>
  <circle cx="589.9" cy="620.6" r="2.3" fill="#2d1235"/>
</g>
</svg>

<div class="title"><span style="letter-spacing:1.2px">CLEAN UP YOUR</span><br><span style="letter-spacing:0.8px">SLEEP HYGIENE</span></div>
<div class="sub">13 simple tricks, will help you get a<br>good nights sleep.</div>

<div class="n" style="left:134px;top:151px">1.</div>
<div class="t" style="left:145px;top:151px">Go to bed and get up at<br>the same time every day,<br>including on the weekends<br>and during vacations.</div>

<div class="n" style="left:135px;top:246px">2.</div>
<div class="t" style="left:146px;top:246px">If you can’t fall asleep or<br>wake up and can’t get back<br>to sleep, get out of bed,<br>read, sketch, or do another<br>calming activity in low light.</div>

<div class="n" style="left:134.5px;top:338.5px">3.</div>
<div class="t" style="left:146px;top:338.5px">Make sure your bedroom is<br>quiet, dark, relaxing, and at<br>a comfortable temperature.</div>

<div class="n" style="left:134.5px;top:431.5px">4.</div>
<div class="t" style="left:146px;top:431.5px">Remove electronic devices,<br>such as TVs, computers,<br>and smart phones, from the<br>bedroom.</div>

<div class="n" style="left:136px;top:532px">5.</div>
<div class="t" style="left:147.5px;top:532px">Use your bed only for<br>sleep and sex.</div>

<div class="n" style="left:398.5px;top:51.5px">6.</div>
<div class="t" style="left:410px;top:51.5px">Exercise, being physically<br>active during the day can<br>help you fall asleep more<br>easily and sleep more<br>deeply at night.</div>

<div class="n" style="left:398px;top:150.5px">7.</div>
<div class="t" style="left:410px;top:150.5px">Keep a sleep diary,<br>experiment and figure out<br>what works best for you.</div>

<div class="n" style="left:398.5px;top:245.5px">8.</div>
<div class="t" style="left:410.5px;top:245.5px">Limit exposure to bright<br>light in the evenings, turn<br>off electronic devices at<br>least 30-60 minutes before<br>bedtime.</div>

<div class="n" style="left:398.5px;top:338.5px">9.</div>
<div class="t" style="left:410.5px;top:338.5px">Establish a relaxing<br>bedtime routine.</div>

<div class="n" style="left:392px;top:431.5px;transform:scaleX(0.82)">10.</div>
<div class="t" style="left:410px;top:431.5px">Don’t eat a large meal<br>before bedtime. If you are<br>hungry at night, eat a light,<br>healthy snack.</div>

<div class="n" style="left:391px;top:523.5px;transform:scaleX(0.74)">11.</div>
<div class="t" style="left:406.5px;top:523.5px;line-height:14.6px">Avoid consuming caffeine<br>in the late afternoon or<br>evening.</div>

<div class="n" style="left:657px;top:55px;transform:scaleX(0.76)">12.</div>
<div class="t" style="left:673px;top:55px">Avoid consuming alcohol,<br>nicotine and THC before<br>bedtime.</div>

<div class="n" style="left:658px;top:150.5px;transform:scaleX(0.79)">13.</div>
<div class="t" style="left:674px;top:150.5px">Reduce your fluid intake<br><span style="margin-left:-2.5px">before bedtime.</span></div>

<div class="h2"><span style="letter-spacing:0.55px">WHAT’S THE RIGHT AMOUNT OF</span><br><span style="letter-spacing:-0.1px">SLEEP FOR YOU?</span></div>

<div class="lab" style="top:290.5px"><b>New Born</b><span>0-3 months</span></div>
<div class="lab" style="top:314.5px"><b>Infants</b><span>4-11 months</span></div>
<div class="lab" style="top:338.5px"><b>Toddlers</b><span>1-2 years</span></div>
<div class="lab" style="top:362.5px"><b>Pre-Schoolers</b><span>3-5</span></div>
<div class="lab" style="top:386.5px"><b>School Children</b><span>6-13</span></div>
<div class="lab" style="top:410.5px"><b>Teenagers</b><span>14-17</span></div>
<div class="lab" style="top:434.5px"><b>Younger Adults</b><span>18-25</span></div>
<div class="lab" style="top:458.5px"><b>Adults</b><span>26-64</span></div>
<div class="lab" style="top:482.5px"><b>Older Adults</b><span>65+</span></div>

<div class="para">Above are the current evidence-based<br>recommendations for each age group, use<br>this as a guide for how many hours of sleep<br>you need to feel your best.</div>

<div class="refs"><span style="letter-spacing:0.12px">Sleep Hygiene. Retrieved from //www.sleepfoundation.org/articles/sleep-hygiene</span><br><span style="letter-spacing:0px">Basics About Sleep: Tips For Better Sleep (2016, July15). Retrieved from //www.cdc.gov/sleep/about_sleep/sleep_hygiene.html</span></div>

<div class="cred">co-created by <b>opticnerve</b><br>marykelley.com &amp; alpinistastudio.com</div>
</body></html>
